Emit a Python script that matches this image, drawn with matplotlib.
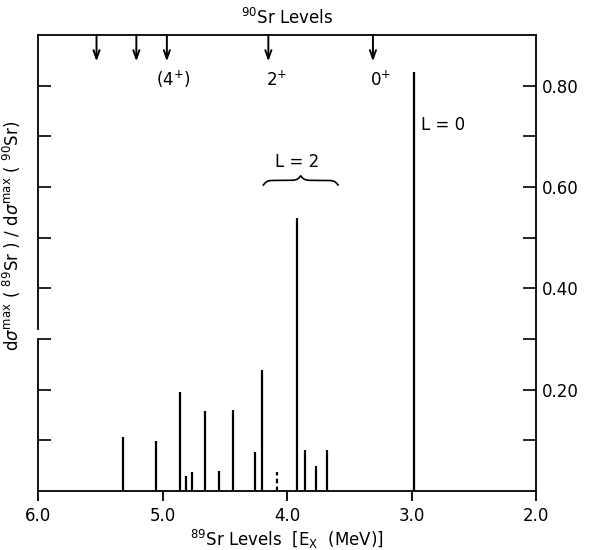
import numpy as np
import matplotlib
matplotlib.use("Agg")
import matplotlib.pyplot as plt

# --- data ---
# 89Sr levels (MeV) and cross-section ratio
energies = [5.32, 5.05, 4.86, 4.81, 4.76, 4.66, 4.545, 4.43, 4.255, 4.20,
            3.917, 3.857, 3.766, 3.68, 2.98]
ratios = [0.107, 0.098, 0.196, 0.029, 0.037, 0.158, 0.040, 0.159, 0.076, 0.238,
          0.539, 0.081, 0.050, 0.080, 0.827]
# uncertain level (dashed)
dashed_energy = [4.077]
dashed_ratio = [0.037]

# 90Sr levels marked by arrows on the top
sr90_levels = [5.53, 5.21, 4.965, 4.15, 3.31]
sr90_labels = ['(4$^{+}$)', '2$^{+}$', '0$^{+}$']
sr90_label_x = [4.91, 4.08, 3.25]

xticks = [6.0, 5.0, 4.0, 3.0, 2.0]
yticks = [0.1, 0.2, 0.3, 0.4, 0.5, 0.6, 0.7, 0.8]
l2_range = (4.19, 3.59)

plt.rcParams['font.family'] = ['DejaVu Sans']
plt.rcParams['mathtext.fontset'] = 'dejavusans'
fs = 12

fig = plt.figure(figsize=(5.91, 5.5), dpi=100)
ax = fig.add_axes([0.0643, 0.1073, 0.8427, 0.8291])

ax.set_xlim(6.0, 2.0)
ax.set_ylim(0, 0.9)

# stick spectrum
ax.vlines(energies, 0, ratios, colors='black', linewidth=1.6)
ax.vlines(dashed_energy, 0, dashed_ratio, colors='black', linewidth=1.6,
          linestyles=(0, (2, 1.5)))

# arrows for 90Sr levels
for e in sr90_levels:
    ax.annotate('', xy=(e, 0.848), xytext=(e, 0.9),
                arrowprops=dict(arrowstyle='->,head_length=0.6,head_width=0.22',
                                color='black', lw=1.4, shrinkA=0, shrinkB=0))
for lab, x in zip(sr90_labels, sr90_label_x):
    ax.text(x, 0.812, lab, ha='center', va='center', fontsize=fs)

# L labels
ax.text(2.92, 0.722, 'L = 0', ha='left', va='center', fontsize=fs)
ax.text(3.92, 0.65, 'L = 2', ha='center', va='center', fontsize=fs)

# curly brace over the L = 2 group
x0, x1 = l2_range
t = np.linspace(0, 0.5, 151)
beta = 40.0
half = 1 / (1 + np.exp(-beta * (t - t[0]))) + 1 / (1 + np.exp(-beta * (t - t[-1])))
shape = np.concatenate([half, half[-2::-1]])
xb = np.linspace(x0, x1, len(shape))
yb = 0.604 + (shape - shape.min()) / (shape.max() - shape.min()) * 0.018
ax.plot(xb, yb, color='black', linewidth=1.2)

# axes styling
for side in ['top', 'right', 'bottom']:
    ax.spines[side].set_linewidth(1.3)
ax.spines['left'].set_visible(False)
ytr = ax.get_yaxis_transform()
ax.plot([0, 0], [0, 0.30], transform=ytr, color='black', lw=1.3, clip_on=False)
ax.plot([0, 0], [0.32, 0.9], transform=ytr, color='black', lw=1.3, clip_on=False)

ax.set_xticks(xticks)
ax.set_xticklabels(['%.1f' % v for v in xticks])
ax.tick_params(axis='x', direction='out', length=7.5, width=1.3, pad=4,
               labelsize=fs, top=False)

ax.set_yticks(yticks)
ax.set_yticklabels(['%.2f' % v if i % 2 == 1 else '' for i, v in enumerate(yticks)])
ax.tick_params(axis='y', direction='in', length=9.5, width=1.2, pad=4,
               labelsize=fs, left=True, right=True, labelleft=False, labelright=True)

ax.set_xlabel('$^{89}$Sr Levels  [E$_{\\mathrm{X}}$  (MeV)]', fontsize=fs, labelpad=2)
ax.set_ylabel('d$\\sigma^{\\mathrm{max}}$ ( $^{89}$Sr ) / d$\\sigma^{\\mathrm{max}}$ ( $^{90}$Sr)',
              fontsize=fs)
ax.yaxis.set_label_position('left')
ax.yaxis.set_label_coords(-0.031, 0.56)
ax.set_title('$^{90}$Sr Levels', fontsize=fs, pad=8)

fig.savefig('out.png', dpi=100)
